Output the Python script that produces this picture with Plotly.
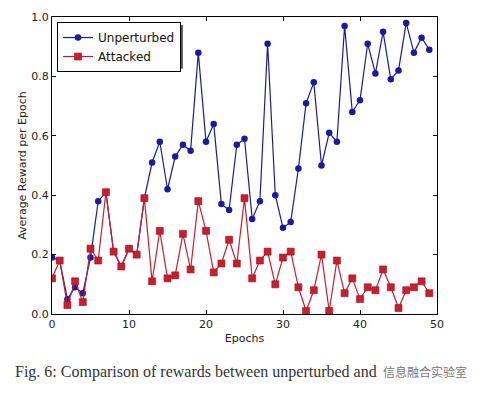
import plotly.graph_objects as go

epochs = list(range(50))

# average reward per epoch
unperturbed = [0.19, 0.18, 0.05, 0.09, 0.07, 0.19, 0.38, 0.41, 0.21, 0.16,
               0.22, 0.20, 0.39, 0.51, 0.58, 0.42, 0.53, 0.57, 0.55, 0.88,
               0.58, 0.64, 0.37, 0.35, 0.57, 0.59, 0.32, 0.38, 0.91, 0.40,
               0.29, 0.31, 0.49, 0.71, 0.78, 0.50, 0.61, 0.58, 0.97, 0.68,
               0.72, 0.91, 0.81, 0.95, 0.79, 0.82, 0.98, 0.88, 0.93, 0.89]

attacked = [0.12, 0.18, 0.03, 0.11, 0.04, 0.22, 0.18, 0.41, 0.21, 0.16,
            0.22, 0.20, 0.39, 0.11, 0.28, 0.12, 0.13, 0.27, 0.15, 0.38,
            0.28, 0.14, 0.17, 0.25, 0.17, 0.39, 0.12, 0.18, 0.21, 0.10,
            0.19, 0.21, 0.09, 0.01, 0.08, 0.20, 0.01, 0.18, 0.07, 0.12,
            0.05, 0.09, 0.08, 0.15, 0.09, 0.02, 0.08, 0.09, 0.11, 0.07]

x_ticks = [0, 10, 20, 30, 40, 50]
y_ticks = [0.0, 0.2, 0.4, 0.6, 0.8, 1.0]

blue = '#1a1a9e'
red = '#c81e2e'

fig = go.Figure()

fig.add_trace(go.Scatter(
    x=epochs, y=unperturbed, name='Unperturbed', mode='lines+markers',
    line=dict(color=blue, width=1.2),
    marker=dict(symbol='circle', size=6.5, color=blue)))

fig.add_trace(go.Scatter(
    x=epochs, y=attacked, name='Attacked', mode='lines+markers',
    line=dict(color=red, width=1.2),
    marker=dict(symbol='square', size=7, color=red,
                line=dict(color='#9a1020', width=0.6))))

axis_style = dict(
    showline=True, linecolor='black', linewidth=1, mirror='ticks',
    ticks='inside', ticklen=4, tickcolor='black', showgrid=False,
    zeroline=False, tickfont=dict(size=11, color='#222'),
)

fig.update_xaxes(range=[0, 50], tickvals=x_ticks,
                 title=dict(text='Epochs', font=dict(size=11, color='#222'), standoff=4),
                 **axis_style)
fig.update_yaxes(range=[0, 1], tickvals=y_ticks, tickformat='.1f',
                 title=dict(text='Average Reward per Epoch', font=dict(size=11, color='#222'), standoff=2),
                 **axis_style)

# legend drop shadow
fig.add_shape(type='rect', xref='paper', yref='paper',
              x0=0.021, x1=0.340, y0=0.826, y1=0.973,
              fillcolor='#555', line=dict(width=0), layer='above')

fig.add_annotation(
    text='Fig. 6: Comparison of rewards between unperturbed and',
    xref='paper', yref='paper', x=-0.102, y=-0.195,
    xanchor='left', yanchor='middle', showarrow=False,
    font=dict(family='Liberation Serif, DejaVu Serif, serif', size=16, color='#333'))

fig.add_annotation(
    text='信息融合实验室',
    xref='paper', yref='paper', x=0.855, y=-0.195,
    xanchor='left', yanchor='middle', showarrow=False, bgcolor='white',
    font=dict(family='Noto Sans CJK SC', size=12, color='#777'))

fig.update_layout(
    width=480, height=394,
    margin=dict(l=52, r=43, t=17, b=80),
    paper_bgcolor='white', plot_bgcolor='white',
    font=dict(family='DejaVu Sans', color='#222'),
    legend=dict(x=0.013, y=0.983, xanchor='left', yanchor='top',
                bgcolor='white', bordercolor='black', borderwidth=1,
                font=dict(size=12, color='#111'), itemwidth=30,
                tracegroupgap=0),
)

fig.write_html("out.html", config={'displayModeBar': False},
               post_script="document.body.style.margin='0';")
